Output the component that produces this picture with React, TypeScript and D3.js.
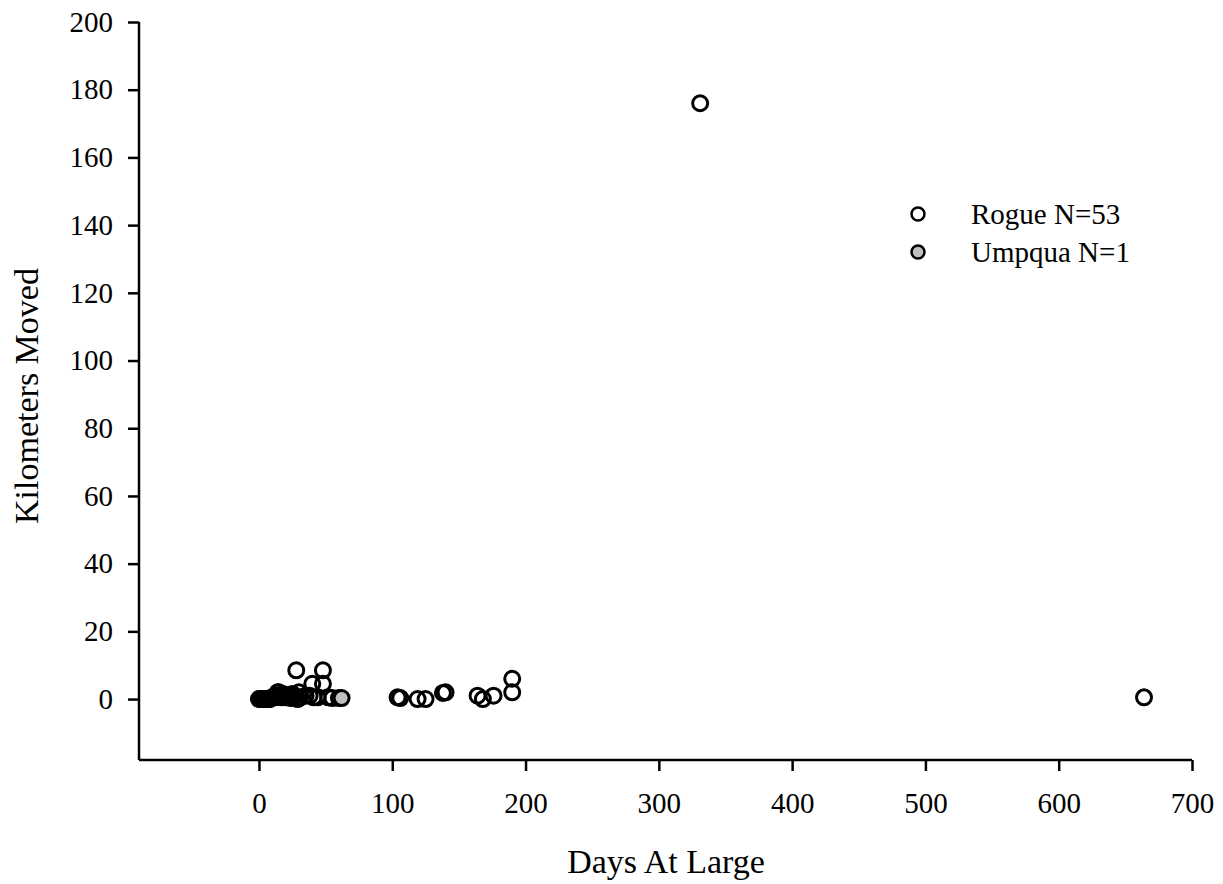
import React, { useEffect, useRef } from "react";
import * as d3 from "d3";

// Rogue River fish, days at large vs km moved
const rogueDays = [
  0, 1, 2, 3, 4, 5, 6, 7, 8, 9, 10, 12, 13, 14, 15, 16, 17, 18, 19, 20,
  21, 22, 23, 24, 25, 26, 28, 29, 30, 31, 35, 38, 40, 41, 44, 48, 48, 52, 55, 60,
  104, 106, 119, 125, 138, 140, 164, 168, 176, 190, 190, 331, 664,
];
const rogueKm = [
  0, 0, 0, 0, 0, 0, 0, 0, 0, 0.3, 0.5, 0.5, 1, 2, 2, 1, 0.5, 1.5, 1, 0.5,
  1, 0.5, 1, 0.3, 1.5, 0.5, 8.5, 0, 2, 0.5, 1, 1, 4.5, 0.5, 0.5, 8.5, 4.5, 0.5, 0.3, 0.3,
  0.5, 0.3, 0, 0, 1.8, 2, 1, 0, 1, 6, 2, 176, 0.5,
];
const umpquaDays = [62];
const umpquaKm = [0.3];

const xTicks = [0, 100, 200, 300, 400, 500, 600, 700];
const yTicks = [0, 20, 40, 60, 80, 100, 120, 140, 160, 180, 200];
const legendLabels = ["Rogue N=53", "Umpqua N=1"];

const font = "'Liberation Serif', 'Times New Roman', serif";

const App = () => {
  const svgRef = useRef(null);

  useEffect(() => {
    const svg = d3.select(svgRef.current);
    svg.selectAll("*").remove();

    const x = d3.scaleLinear().domain([-90, 700]).range([139, 1192]);
    const y = d3.scaleLinear().domain([-18, 200]).range([760, 22]);

    // axes
    const xAxis = svg.append("g")
      .attr("transform", "translate(0,760)")
      .call(d3.axisBottom(x).tickValues(xTicks).tickSize(11).tickPadding(21));
    const yAxis = svg.append("g")
      .attr("transform", "translate(139,0)")
      .call(d3.axisLeft(y).tickValues(yTicks).tickSize(11).tickPadding(15));

    [xAxis, yAxis].forEach((g) => {
      g.select(".domain").attr("stroke", "#000").attr("stroke-width", 2.5);
      g.selectAll(".tick line").attr("stroke", "#000").attr("stroke-width", 2.5);
      g.selectAll(".tick text")
        .attr("fill", "#000")
        .style("font-family", font)
        .style("font-size", "29px");
    });
    // plain axis lines without the outer ticks
    xAxis.select(".domain").attr("d", `M${x(-90)},0H${x(700)}`);
    yAxis.select(".domain").attr("d", `M0,${y(-18)}V${y(200)}`);

    const rogue = rogueDays.map((d, i) => ({ d, k: rogueKm[i] }));
    const umpqua = umpquaDays.map((d, i) => ({ d, k: umpquaKm[i] }));

    svg.append("g").selectAll("circle")
      .data(rogue)
      .enter()
      .append("circle")
      .attr("cx", (p) => x(p.d))
      .attr("cy", (p) => y(p.k))
      .attr("r", 7.5)
      .attr("fill", "none")
      .attr("stroke", "#000")
      .attr("stroke-width", 3);

    svg.append("g").selectAll("circle")
      .data(umpqua)
      .enter()
      .append("circle")
      .attr("cx", (p) => x(p.d))
      .attr("cy", (p) => y(p.k))
      .attr("r", 7.5)
      .attr("fill", "#c0c0c0")
      .attr("stroke", "#000")
      .attr("stroke-width", 3);

    // legend
    const legend = svg.append("g");
    legendLabels.forEach((label, i) => {
      const cy = 214 + i * 38;
      legend.append("circle")
        .attr("cx", 918)
        .attr("cy", cy)
        .attr("r", 6.5)
        .attr("fill", i === 0 ? "none" : "#c0c0c0")
        .attr("stroke", "#000")
        .attr("stroke-width", 2.5);
      legend.append("text")
        .attr("x", 971)
        .attr("y", cy + 10)
        .style("font-family", font)
        .style("font-size", "29px")
        .text(label);
    });

    svg.append("text")
      .attr("text-anchor", "middle")
      .attr("x", 666)
      .attr("y", 873)
      .style("font-family", font)
      .style("font-size", "34px")
      .text("Days At Large");

    svg.append("text")
      .attr("text-anchor", "middle")
      .attr("transform", "translate(38,396) rotate(-90)")
      .style("font-family", font)
      .style("font-size", "34px")
      .text("Kilometers Moved");
  }, []);

  return (
    <svg
      ref={svgRef}
      width={1223}
      height={884}
      style={{ position: "absolute", left: 0, top: 0, background: "#fff" }}
    />
  );
};

export default App;
